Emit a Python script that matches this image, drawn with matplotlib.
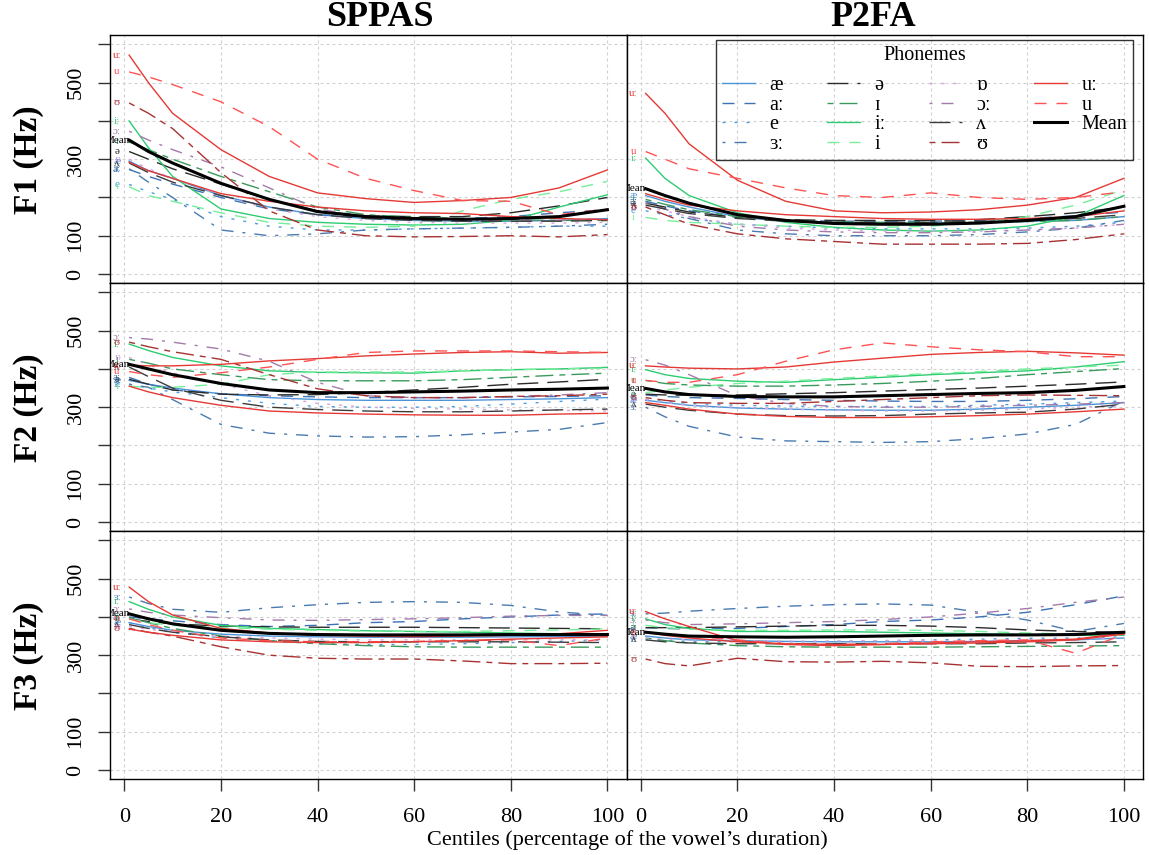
import matplotlib
matplotlib.use("Agg")
import matplotlib.pyplot as plt
from matplotlib.lines import Line2D

# ---------------- data ----------------
centiles = [1, 5, 10, 20, 30, 40, 50, 60, 70, 80, 90, 100]
phonemes = ["æ", "aː", "e", "ɜː", "ə", "ɪ", "iː", "i", "ɒ", "ɔː", "ʌ", "ʊ", "uː", "u"]
formants = ["F1", "F2", "F3"]
aligners = ["SPPAS", "P2FA"]
x_ticks = [0, 20, 40, 60, 80, 100]
y_ticks = [0, 100, 200, 300, 400, 500, 600]
y_tick_labels = ["0", "100", "", "300", "", "500", ""]

f1_sppas = {
    "æ":  [295, 270, 250, 205, 175, 155, 145, 140, 138, 138, 140, 145],
    "aː": [273, 255, 235, 200, 170, 155, 148, 145, 145, 150, 160, 168],
    "e":  [234, 215, 195, 150, 125, 115, 115, 118, 120, 122, 125, 125],
    "ɜː": [275, 240, 200, 115, 100, 105, 115, 118, 120, 122, 125, 130],
    "ə":  [320, 300, 275, 235, 195, 165, 152, 150, 150, 160, 178, 200],
    "ɪ":  [345, 325, 300, 255, 215, 175, 155, 148, 145, 142, 140, 140],
    "iː": [400, 330, 255, 170, 145, 135, 130, 128, 130, 140, 175, 207],
    "i":  [228, 205, 190, 160, 135, 125, 122, 125, 165, 195, 215, 242],
    "ɒ":  [300, 275, 250, 205, 170, 150, 140, 135, 133, 133, 133, 135],
    "ɔː": [373, 350, 325, 280, 225, 170, 150, 145, 140, 140, 140, 145],
    "ʌ":  [290, 265, 240, 205, 175, 155, 145, 140, 138, 138, 138, 140],
    "ʊ":  [447, 420, 380, 265, 165, 115, 100, 97, 98, 100, 97, 103],
    "uː": [572, 500, 420, 325, 255, 212, 197, 187, 192, 200, 225, 272],
    "u":  [528, 515, 495, 450, 385, 300, 250, 218, 192, 190, 155, 170],
    "unlisted": [292, 270, 250, 210, 190, 175, 165, 160, 158, 150, 145, 142],
    "Mean": [350, 320, 290, 237, 195, 163, 150, 145, 143, 145, 150, 168],
}
f1_p2fa = {
    "æ":  [205, 190, 175, 150, 138, 135, 133, 133, 135, 138, 140, 150],
    "aː": [190, 178, 165, 148, 140, 138, 138, 138, 140, 145, 152, 162],
    "e":  [165, 155, 145, 130, 125, 120, 118, 118, 118, 120, 125, 135],
    "ɜː": [190, 170, 145, 115, 105, 100, 100, 100, 103, 110, 120, 140],
    "ə":  [185, 175, 162, 148, 142, 140, 140, 140, 142, 150, 160, 175],
    "ɪ":  [195, 182, 168, 150, 140, 136, 135, 135, 135, 137, 140, 150],
    "iː": [303, 250, 205, 160, 135, 122, 115, 112, 115, 125, 150, 205],
    "i":  [148, 140, 135, 130, 125, 122, 122, 125, 135, 150, 180, 220],
    "ɒ":  [175, 165, 150, 130, 120, 115, 112, 112, 112, 115, 120, 130],
    "ɔː": [185, 170, 150, 125, 115, 110, 108, 108, 110, 115, 120, 130],
    "ʌ":  [180, 170, 158, 145, 138, 135, 135, 135, 138, 140, 145, 155],
    "ʊ":  [175, 155, 130, 105, 92, 85, 78, 78, 78, 80, 90, 105],
    "uː": [472, 420, 340, 245, 190, 165, 160, 162, 168, 180, 200, 250],
    "u":  [320, 300, 275, 250, 225, 205, 200, 212, 200, 195, 200, 215],
    "unlisted": [210, 195, 180, 165, 155, 150, 145, 143, 143, 145, 150, 165],
    "Mean": [223, 205, 185, 155, 140, 132, 130, 130, 133, 140, 150, 177],
}
f2_sppas = {
    "æ":  [370, 360, 350, 335, 325, 320, 318, 318, 318, 320, 322, 325],
    "aː": [378, 360, 345, 335, 330, 327, 325, 325, 325, 327, 328, 330],
    "e":  [360, 350, 340, 325, 310, 302, 300, 300, 302, 308, 315, 321],
    "ɜː": [360, 352, 320, 255, 232, 225, 222, 223, 228, 235, 242, 260],
    "ə":  [373, 360, 345, 334, 332, 333, 338, 345, 352, 360, 366, 373],
    "ɪ":  [425, 415, 400, 385, 372, 369, 369, 369, 372, 378, 384, 389],
    "iː": [465, 448, 430, 408, 395, 391, 390, 389, 395, 398, 400, 404],
    "i":  [355, 352, 352, 360, 385, 392, 392, 392, 395, 398, 400, 402],
    "ɒ":  [430, 410, 390, 360, 330, 310, 300, 297, 295, 293, 292, 290],
    "ɔː": [482, 478, 470, 452, 420, 365, 330, 325, 325, 328, 332, 338],
    "ʌ":  [405, 380, 350, 318, 300, 294, 290, 288, 288, 290, 293, 295],
    "ʊ":  [470, 458, 445, 425, 385, 348, 330, 325, 325, 328, 330, 334],
    "uː": [410, 408, 408, 412, 421, 427, 434, 439, 443, 445, 441, 443],
    "u":  [393, 385, 378, 390, 405, 425, 443, 447, 447, 447, 445, 443],
    "unlisted": [355, 340, 325, 305, 290, 285, 282, 280, 279, 279, 282, 284],
    "Mean": [412, 400, 385, 362, 345, 338, 338, 340, 342, 345, 347, 350],
}
f2_p2fa = {
    "æ":  [318, 312, 305, 298, 295, 293, 292, 292, 295, 300, 305, 312],
    "aː": [332, 328, 325, 323, 320, 318, 316, 315, 315, 318, 322, 328],
    "e":  [320, 315, 310, 305, 303, 302, 302, 302, 305, 308, 312, 316],
    "ɜː": [300, 275, 250, 222, 212, 210, 208, 210, 218, 230, 255, 316],
    "ə":  [334, 332, 331, 332, 335, 338, 342, 346, 350, 355, 360, 366],
    "ɪ":  [370, 362, 358, 355, 355, 358, 362, 368, 375, 385, 393, 401],
    "iː": [398, 385, 375, 368, 365, 372, 378, 385, 390, 395, 405, 419],
    "i":  [338, 345, 352, 362, 368, 375, 382, 388, 393, 400, 405, 410],
    "ɒ":  [320, 312, 305, 300, 295, 292, 290, 290, 292, 295, 300, 305],
    "ɔː": [424, 410, 385, 330, 310, 302, 300, 300, 302, 305, 308, 312],
    "ʌ":  [308, 300, 292, 282, 278, 277, 278, 282, 285, 287, 295, 308],
    "ʊ":  [325, 318, 312, 310, 310, 315, 320, 325, 330, 332, 331, 330],
    "uː": [408, 405, 402, 400, 405, 418, 428, 438, 443, 446, 442, 436],
    "u":  [370, 365, 365, 385, 420, 450, 468, 458, 450, 445, 432, 432],
    "unlisted": [312, 305, 295, 282, 276, 273, 273, 275, 278, 282, 288, 295],
    "Mean": [349, 340, 333, 328, 327, 327, 330, 333, 336, 338, 344, 354],
}
f3_sppas = {
    "æ":  [385, 375, 365, 355, 350, 348, 347, 347, 347, 348, 349, 350],
    "aː": [400, 395, 390, 380, 375, 378, 385, 388, 395, 400, 405, 408],
    "e":  [385, 372, 360, 345, 338, 330, 328, 328, 330, 333, 336, 340],
    "ɜː": [452, 435, 420, 412, 424, 432, 438, 440, 438, 430, 413, 404],
    "ə":  [395, 388, 382, 376, 374, 373, 373, 373, 372, 371, 370, 369],
    "ɪ":  [398, 385, 370, 350, 338, 330, 325, 322, 321, 321, 321, 321],
    "iː": [440, 420, 400, 378, 370, 367, 364, 362, 360, 358, 356, 355],
    "i":  [395, 385, 378, 372, 368, 365, 363, 362, 362, 364, 366, 369],
    "ɒ":  [375, 368, 360, 350, 345, 342, 340, 340, 340, 340, 340, 340],
    "ɔː": [421, 412, 405, 398, 392, 391, 393, 395, 398, 402, 404, 404],
    "ʌ":  [380, 370, 360, 348, 340, 336, 335, 335, 335, 335, 334, 333],
    "ʊ":  [370, 360, 350, 322, 300, 292, 290, 290, 285, 278, 278, 279],
    "uː": [478, 440, 405, 370, 358, 352, 350, 348, 350, 352, 356, 365],
    "u":  [395, 380, 365, 345, 338, 335, 335, 336, 338, 340, 325, 345],
    "unlisted": [368, 360, 352, 340, 335, 333, 333, 335, 338, 342, 345, 348],
    "Mean": [408, 395, 382, 365, 357, 354, 353, 353, 353, 354, 354, 354],
}
f3_p2fa = {
    "æ":  [350, 345, 340, 338, 336, 335, 335, 335, 336, 338, 340, 345],
    "aː": [372, 370, 368, 370, 375, 380, 388, 392, 400, 412, 432, 455],
    "e":  [340, 338, 336, 335, 335, 336, 338, 340, 342, 344, 345, 348],
    "ɜː": [408, 410, 415, 422, 428, 432, 434, 431, 412, 392, 362, 383],
    "ə":  [372, 372, 372, 374, 376, 378, 378, 376, 372, 366, 362, 360],
    "ɪ":  [345, 338, 332, 325, 322, 321, 321, 321, 322, 323, 324, 325],
    "iː": [395, 380, 370, 362, 362, 362, 360, 358, 356, 354, 352, 352],
    "i":  [378, 372, 368, 365, 365, 366, 366, 365, 362, 358, 355, 352],
    "ɒ":  [345, 342, 340, 338, 337, 337, 338, 338, 338, 340, 342, 345],
    "ɔː": [392, 385, 380, 382, 385, 388, 393, 400, 410, 422, 438, 452],
    "ʌ":  [340, 335, 332, 330, 330, 330, 330, 330, 330, 332, 333, 335],
    "ʊ":  [290, 278, 272, 292, 283, 282, 284, 280, 271, 270, 272, 273],
    "uː": [414, 395, 375, 338, 328, 325, 328, 332, 335, 338, 342, 358],
    "u":  [360, 355, 350, 340, 330, 328, 330, 335, 338, 340, 305, 355],
    "unlisted": [360, 352, 345, 335, 330, 328, 328, 330, 332, 335, 340, 355],
    "Mean": [360, 355, 350, 348, 347, 348, 350, 352, 353, 353, 354, 360],
}
panel_data = [[f1_sppas, f1_p2fa], [f2_sppas, f2_p2fa], [f3_sppas, f3_p2fa]]

# ---------------- styles ----------------
colors = {
    "æ": "#4c94d8", "aː": "#3d72b4", "e": "#4d9de0", "ɜː": "#4a7bb0",
    "ə": "#2b2b2b", "ɪ": "#3a9a5c", "iː": "#2ecc71", "i": "#76ee9a",
    "ɒ": "#d9a3e0", "ɔː": "#a37aaa", "ʌ": "#3c3c3c", "ʊ": "#a83232",
    "uː": "#e53935", "u": "#ff5252", "unlisted": "#e53935", "Mean": "#000000",
}
px = 0.72  # points per pixel at dpi 100
lty = {
    "solid": None,
    "dashed": (12 * px, 10 * px),
    "dotted": (3 * px, 9 * px),
    "dotdash": (3 * px, 9 * px, 12 * px, 9 * px),
    "longdash": (21 * px, 9 * px),
    "twodash": (6 * px, 6 * px, 18 * px, 6 * px),
}
lty_cycle = ["solid", "dashed", "dotted", "dotdash", "longdash", "twodash"]
styles = {p: lty_cycle[i % 6] for i, p in enumerate(phonemes)}
styles["unlisted"] = "solid"
styles["Mean"] = "solid"

plt.rcParams["font.family"] = ["Liberation Serif", "DejaVu Serif"]
plt.rcParams["lines.scale_dashes"] = False

W, H = 1149, 855
fig = plt.figure(figsize=(W / 100, H / 100), dpi=100)

left_px = [110, 626.5]
right_px = [626.5, 1143]
top_px = [35.2, 283.2, 531.2]
ph_px = 248.0

xlim = (1 - 0.04 * 99, 100 + 0.04 * 99)
ylim = (-24, 624)

axes = [[None, None] for _ in range(3)]
for r in range(3):
    for c in range(2):
        l = left_px[c] / W
        w = (right_px[c] - left_px[c]) / W
        b = 1 - (top_px[r] + ph_px) / H
        h = ph_px / H
        ax = fig.add_axes([l, b, w, h])
        axes[r][c] = ax
        ax.set_xlim(*xlim)
        ax.set_ylim(*ylim)
        for gx in x_ticks:
            ax.axvline(gx, color="#d0d0d0", lw=0.8, dashes=(3 * px, 3 * px), zorder=0)
        for gy in y_ticks:
            ax.axhline(gy, color="#d0d0d0", lw=0.8, dashes=(3 * px, 3 * px), zorder=0)
        data = panel_data[r][c]
        for key in phonemes + ["unlisted", "Mean"]:
            vals = data[key]
            lw = 2.2 if key == "Mean" else 1.0
            ln, = ax.plot(centiles, vals, color=colors[key], lw=lw, zorder=3 if key == "Mean" else 2)
            d = lty[styles[key]]
            if d is not None:
                ln.set_dashes(d)
            if key != "unlisted":
                ax.text(-1.5, vals[0], key, color=colors[key], fontsize=8,
                        ha="center", va="center", clip_on=True, zorder=4)
        for s in ax.spines.values():
            s.set_linewidth(1.0)
            s.set_color("black")
        ax.tick_params(direction="out", length=12 * px, width=1.0, labelsize=16, color="#333333")
        if c == 0:
            ax.set_yticks(y_ticks)
            ax.set_yticklabels(y_tick_labels, rotation=90, va="center")
            ax.tick_params(axis="y", pad=9)
        else:
            ax.set_yticks([])
        if r == 2:
            ax.set_xticks(x_ticks)
            ax.set_xticklabels([str(t) for t in x_ticks])
            ax.tick_params(axis="x", pad=12)
        else:
            ax.set_xticks([])

# legend
leg_labels = phonemes + ["Mean"]
leg_lines = []
for key in leg_labels:
    lw = 2.2 if key == "Mean" else 1.0
    ln = Line2D([0], [0], color=colors[key], lw=lw)
    d = lty[styles[key]]
    if d is not None:
        ln.set_dashes(d)
    leg_lines.append(ln)
ax_leg = axes[0][1]
leg = ax_leg.legend(leg_lines, leg_labels, ncol=4, title="Phonemes", fontsize=14.5,
                    title_fontsize=14.5, loc="upper right",
                    bbox_to_anchor=((1133 - 626.5) / 516.5, 1 - (40 - 35.2) / 248),
                    borderaxespad=0, frameon=True, fancybox=False, handlelength=1.65,
                    handletextpad=0.7, columnspacing=2.15, labelspacing=0.02, borderpad=0.3)
leg._legend_box.sep = 8
leg.get_frame().set_edgecolor("black")
leg.get_frame().set_linewidth(1.0)
leg.get_frame().set_facecolor("none")
leg.set_zorder(5)

# titles & labels
fig.text(380 / W, 1 - 18 / H, aligners[0], fontsize=26, fontweight="bold", ha="center", va="center")
fig.text(873 / W, 1 - 18 / H, aligners[1], fontsize=26, fontweight="bold", ha="center", va="center")
for r in range(3):
    yc = top_px[r] + ph_px / 2
    fig.text(28 / W, 1 - yc / H, f"{formants[r]} (Hz)", fontsize=24, fontweight="bold",
             rotation=90, ha="center", va="center")
fig.text(627 / W, 1 - 840 / H, "Centiles (percentage of the vowel’s duration)", fontsize=16,
         ha="center", va="center")

fig.savefig("out.png", dpi=100)
